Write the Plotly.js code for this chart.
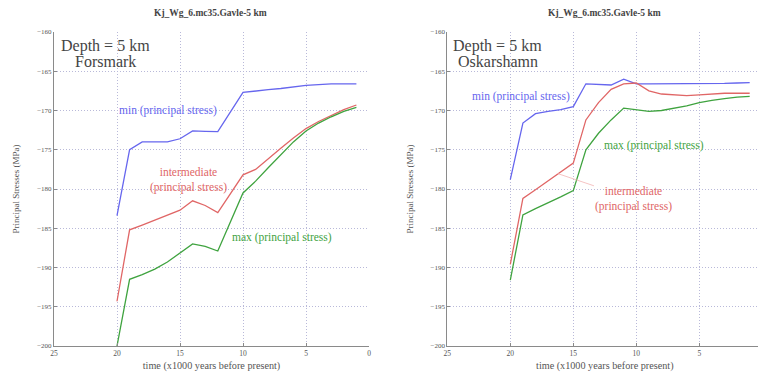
<!DOCTYPE html>
<html>
<head>
<meta charset="utf-8">
<script src="https://cdn.plot.ly/plotly-3.0.1.min.js"></script>
<style>
  html, body { margin: 0; padding: 0; overflow: hidden; background: #fff; }
  #chart { width: 780px; height: 383px; }
</style>
</head>
<body>
<div id="chart"></div>
<script>
// Principal stresses at 5 km depth through the last glacial cycle
const timeForsmark = [20, 19, 18, 17, 16, 15, 14, 13, 12, 10, 9, 8, 7, 6, 5, 4, 3, 2, 1];
const minForsmark = [-183.4, -175.0, -174.0, -174.0, -174.0, -173.6, -172.6, -172.65, -172.7, -167.7, -167.5, -167.35, -167.2, -167.0, -166.8, -166.7, -166.6, -166.6, -166.6];
const intForsmark = [-194.3, -185.2, -184.6, -184.0, -183.4, -182.7, -181.5, -182.1, -183.0, -178.2, -177.5, -176.1, -174.8, -173.5, -172.3, -171.4, -170.6, -169.9, -169.3];
const maxForsmark = [-200.0, -191.5, -190.9, -190.2, -189.3, -188.2, -187.0, -187.3, -187.9, -180.5, -179.0, -177.3, -175.6, -174.0, -172.6, -171.6, -170.8, -170.1, -169.6];

const timeOskarshamn = [20, 19, 18, 17, 16, 15, 14, 13, 12, 11, 10, 9, 8, 7, 6, 5, 4, 3, 2, 1];
const minOskarshamn = [-178.8, -171.6, -170.4, -170.1, -169.9, -169.5, -166.6, -166.7, -166.75, -166.0, -166.6, -166.6, -166.6, -166.6, -166.6, -166.6, -166.6, -166.55, -166.5, -166.45];
const intOskarshamn = [-189.6, -181.2, -180.1, -179.0, -177.8, -176.7, -171.2, -169.0, -167.3, -166.6, -166.5, -167.5, -167.9, -168.0, -168.1, -168.0, -167.9, -167.8, -167.8, -167.8];
const maxOskarshamn = [-191.6, -183.3, -182.5, -181.8, -181.0, -180.2, -175.0, -172.9, -171.2, -169.7, -169.9, -170.1, -170.0, -169.7, -169.4, -169.0, -168.7, -168.5, -168.3, -168.2];

const xTicksForsmark = [25, 20, 15, 10, 5, 0];
const xTicksOskarshamn = [25, 20, 15, 10, 5];
const yTicks = [-160, -165, -170, -175, -180, -185, -190, -195, -200];

const plotTitle = 'Kj_Wg_6.mc35.Gavle-5 km';
const xTitle = 'time (x1000 years before present)';
const yTitle = 'Principal Stresses (MPa)';

const BLUE = '#6666ee';
const RED = '#e06666';
const GREEN = '#3fa33f';
const SERIF = 'Liberation Serif, Times New Roman, serif';
const GRID = '#b9b9d9';

const W = 780, H = 383;
const px = v => v / W;
const py = v => (H - v) / H;

function line(x, y, color, xa, ya) {
  return { x: x, y: y, xaxis: xa, yaxis: ya, type: 'scatter', mode: 'lines',
           line: { color: color, width: 1.3 }, hoverinfo: 'skip', showlegend: false };
}

const data = [
  line(timeForsmark, minForsmark, BLUE, 'x', 'y'),
  line(timeForsmark, intForsmark, RED, 'x', 'y'),
  line(timeForsmark, maxForsmark, GREEN, 'x', 'y'),
  line(timeOskarshamn, minOskarshamn, BLUE, 'x2', 'y2'),
  line(timeOskarshamn, intOskarshamn, RED, 'x2', 'y2'),
  line(timeOskarshamn, maxOskarshamn, GREEN, 'x2', 'y2')
];

function xAxis(domain, anchor, ticks) {
  return {
    domain: domain, anchor: anchor, range: [25, 0], tickvals: ticks,
    showgrid: true, gridcolor: GRID, griddash: '1px,2px', gridwidth: 1,
    zeroline: false, showline: true, linecolor: '#8a8a8a', linewidth: 1,
    ticks: 'inside', ticklen: 3, tickcolor: '#8a8a8a',
    tickfont: { family: SERIF, size: 7.5, color: '#555' },
    title: { text: xTitle, font: { family: SERIF, size: 10.2, color: '#555' }, standoff: 4 }
  };
}
function yAxis(domain, anchor) {
  return {
    domain: domain, anchor: anchor, range: [-200, -160], tickvals: yTicks,
    showgrid: true, gridcolor: GRID, griddash: '1px,2px', gridwidth: 1,
    zeroline: false, showline: true, linecolor: '#8a8a8a', linewidth: 1,
    ticks: 'inside', ticklen: 3, tickcolor: '#8a8a8a',
    tickfont: { family: SERIF, size: 7, color: '#555' },
    title: { text: yTitle, font: { family: SERIF, size: 9, color: '#555' }, standoff: 15 }
  };
}

function label(text, x, y, xref, yref, color, size) {
  return { text: text, x: x, y: y, xref: xref, yref: yref, showarrow: false,
           xanchor: 'center', yanchor: 'middle',
           font: { family: SERIF, size: size || 11.5, color: color } };
}

const annotations = [
  // panel titles
  { text: '<b>' + plotTitle + '</b>', x: px(210), y: py(13), xref: 'paper', yref: 'paper',
    showarrow: false, xanchor: 'center', yanchor: 'middle', font: { family: SERIF, size: 9.5, color: '#444' } },
  { text: '<b>' + plotTitle + '</b>', x: px(604), y: py(13), xref: 'paper', yref: 'paper',
    showarrow: false, xanchor: 'center', yanchor: 'middle', font: { family: SERIF, size: 9.5, color: '#444' } },

  // site boxes
  label('Depth = 5 km', 20.95, -161.75, 'x', 'y', '#444', 16),
  label('Forsmark', 20.95, -163.8, 'x', 'y', '#444', 16),
  label('Depth = 5 km', 20.98, -161.75, 'x2', 'y2', '#444', 16),
  label('Oskarshamn', 20.98, -163.8, 'x2', 'y2', '#444', 16),

  // curve labels, Forsmark
  label('min (principal stress)', 15.94, -169.94, 'x', 'y', BLUE),
  label('intermediate<br>(principal stress)', 14.35, -178.8, 'x', 'y', RED),
  label('max (principal stress)', 6.88, -186.2, 'x', 'y', GREEN),

  // curve labels, Oskarshamn
  label('min (principal stress)', 19.15, -168.24, 'x2', 'y2', BLUE),
  label('max (principal stress)', 8.6, -174.4, 'x2', 'y2', GREEN),
  { text: 'intermediate<br>(principal stress)', x: 16.3, y: -178.0, xref: 'x2', yref: 'y2',
    showarrow: true, arrowhead: 0, arrowwidth: 0.8, arrowcolor: '#f2b4b4',
    ax: 77, ay: 26, font: { family: SERIF, size: 11.5, color: RED } }
];

const layout = {
  width: W, height: H,
  margin: { l: 0, r: 0, t: 0, b: 0 },
  paper_bgcolor: '#fff', plot_bgcolor: '#fff',
  xaxis: xAxis([px(54), px(369)], 'y', xTicksForsmark),
  yaxis: yAxis([py(346), py(32)], 'x'),
  xaxis2: xAxis([px(447.3), px(762.3)], 'y2', xTicksOskarshamn),
  yaxis2: yAxis([py(346), py(32)], 'x2'),
  annotations: annotations
};

Plotly.newPlot('chart', data, layout, { displayModeBar: false, staticPlot: true });
</script>
</body>
</html>
